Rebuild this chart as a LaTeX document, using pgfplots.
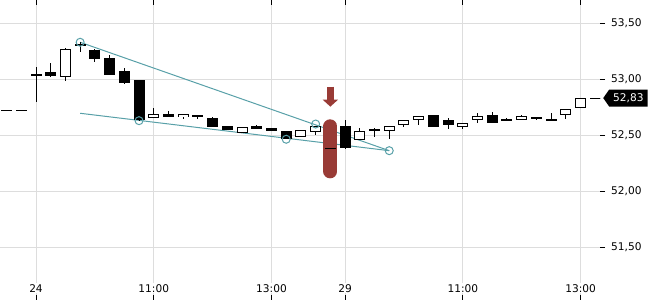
\documentclass[border=0pt]{standalone}
\usepackage{fontspec}
\setmainfont{DejaVu Sans}
\usepackage{pgfplots}
\pgfplotsset{compat=1.18}
\usepackage{pgfplotstable}
\usetikzlibrary{shapes.symbols, arrows.meta}
\definecolor{gridc}{RGB}{221,221,221}
\definecolor{trend}{RGB}{88,160,168}
\definecolor{annred}{RGB}{153,59,54}

\pgfplotstableread{
p o h l c
-2 52.72 52.72 52.72 52.72
-1 52.72 52.72 52.72 52.72
0 53.047 53.107 52.797 53.030
1 53.0625 53.146 53.02 53.03
3 53.315 53.328 53.244 53.297
4 53.259 53.27 53.154 53.181
5 53.1875 53.214 53.038 53.038
6 53.071 53.098 52.958 52.967
7 52.991 52.991 52.628 52.634
9 52.6875 52.72 52.663 52.663
11 52.679 52.679 52.643 52.663
12 52.649 52.663 52.574 52.574
13 52.58 52.58 52.545 52.545
15 52.58 52.592 52.551 52.551
16 52.5625 52.5625 52.538 52.538
17 52.536 52.536 52.462 52.467
20 52.381 52.381 52.381 52.381
21 52.58 52.634 52.378 52.387
23 52.554 52.56 52.48 52.542
27 52.676 52.676 52.574 52.574
28 52.634 52.652 52.556 52.592
31 52.679 52.702 52.607 52.607
32 52.634 52.654 52.634 52.634
34 52.664 52.664 52.631 52.646
35 52.634 52.694 52.634 52.634
38 52.828 52.828 52.828 52.828
}\blackc

\pgfplotstableread{
p o h l c
2 53.015 53.274 52.985 53.265
8 52.649 52.738 52.649 52.685
10 52.658 52.685 52.646 52.685
14 52.515 52.574 52.515 52.574
18 52.479 52.545 52.479 52.545
19 52.53 52.578 52.506 52.578
22 52.453 52.56 52.453 52.536
24 52.538 52.578 52.467 52.578
25 52.592 52.631 52.569 52.631
26 52.634 52.673 52.59 52.673
29 52.569 52.61 52.556 52.61
30 52.631 52.699 52.61 52.673
33 52.631 52.68 52.631 52.667
36 52.681 52.729 52.64 52.729
37 52.744 52.828 52.744 52.828
}\whitec

\begin{document}
\begin{tikzpicture}
\path[use as bounding box] (0,0) rectangle (650bp,300bp);
\begin{axis}[
  at={(0,0)}, anchor=south west,
  scale only axis, width=600bp, height=300bp,
  xmin=-2.446, xmax=38.32, ymin=51.0268, ymax=53.7054,
  axis line style={draw=none},
  grid=major, grid style={gridc, line width=1bp},
  xtick={0,8,16,21,29,37},
  xticklabels={24,11:00,13:00,29,11:00,13:00},
  ytick={51.5,52,52.5,53,53.5},
  yticklabel pos=right,
  major tick length=5bp,
  xtick align=inside, ytick align=outside,
  tick style={black, line width=1bp},
  tick label style={font=\fontsize{10.6bp}{12bp}\selectfont},
  xticklabel style={anchor=base, yshift=8bp, fill=white, inner sep=1bp},
  yticklabel style={anchor=west, inner sep=0pt, xshift=6bp},
  /pgf/number format/fixed, /pgf/number format/fixed zerofill,
  /pgf/number format/precision=2, /pgf/number format/use comma,
  /pgf/number format/assume math mode=true,
  extra y ticks={52.83},
  extra y tick style={grid=none, major tick length=0pt,
    yticklabel style={shape=signal, signal to=west, signal pointer angle=110,
      fill=black, text=white, inner xsep=4bp, inner ysep=0pt,
      minimum height=17bp, xshift=-3bp}},
]
% trend lines
\addplot[trend, line width=1bp] coordinates {(3,53.328) (24,52.36)};
\addplot[trend, line width=1bp] coordinates {(3,52.694) (24,52.36)};
% highlight
\addplot[annred, line width=14bp, line cap=round] coordinates {(20,52.5775) (20,52.1755)};
\addplot[annred, line width=7bp, -{Triangle[width=15bp,length=7bp]}] coordinates {(20,52.931) (20,52.753)};
% wicks
\addplot[draw=none, mark=none, error bars/.cd, y dir=both, y explicit, error mark=none,
  error bar style={draw=black, solid, line width=1bp}]
  table[x=p, y expr={(\thisrow{h}+\thisrow{l})/2}, y error expr={(\thisrow{h}-\thisrow{l})/2}] {\blackc};
\addplot[draw=none, mark=none, error bars/.cd, y dir=both, y explicit, error mark=none,
  error bar style={draw=black, solid, line width=1bp}]
  table[x=p, y expr={(\thisrow{h}+\thisrow{l})/2}, y error expr={(\thisrow{h}-\thisrow{l})/2}] {\whitec};
% black bodies
\addplot[draw=none, mark=none, error bars/.cd, y dir=both, y explicit, error mark=none,
  error bar style={draw=black, solid, line width=11bp}]
  table[x=p, y expr={(\thisrow{o}+\thisrow{c})/2}, y error expr={max(abs(\thisrow{o}-\thisrow{c})/2,0.0045)}] {\blackc};
% white bodies
\addplot[draw=none, mark=none, error bars/.cd, y dir=both, y explicit, error mark=none,
  error bar style={draw=black, solid, line width=11bp}]
  table[x=p, y expr={(\thisrow{o}+\thisrow{c})/2}, y error expr={max(abs(\thisrow{o}-\thisrow{c})/2,0.0045)}] {\whitec};
\addplot[draw=none, mark=none, error bars/.cd, y dir=both, y explicit, error mark=none,
  error bar style={draw=white, solid, line width=9bp}]
  table[x=p, y expr={(\thisrow{o}+\thisrow{c})/2}, y error expr={max(abs(\thisrow{o}-\thisrow{c})/2-0.009,0)}] {\whitec};
% trend markers
\addplot[only marks, mark=o, mark size=4bp, trend, mark options={line width=1bp}]
  coordinates {(3,53.328) (7,52.628) (17,52.462) (19,52.598) (24,52.36)};
\end{axis}
\end{tikzpicture}
\end{document}
